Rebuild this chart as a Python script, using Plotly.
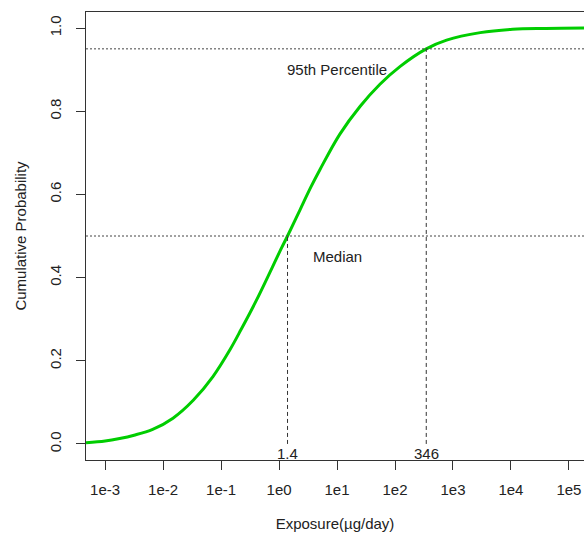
import plotly.graph_objects as go

# Curve values (exposure in µg/day, cumulative probability)
exposure = [4.68e-4, 1.0e-3, 1.78e-3, 3.16e-3, 6.61e-3, 0.0148, 0.0331, 0.0724,
            0.143, 0.221, 0.412, 1.11, 1.4, 2.30, 3.55, 5.09, 11.2, 25.1, 55.0,
            123, 346, 776, 2950, 10700, 39800, 200000]
cum_prob = [0.003, 0.007, 0.013, 0.021, 0.035, 0.062, 0.105, 0.162,
            0.227, 0.275, 0.347, 0.472, 0.50, 0.563, 0.618, 0.66, 0.745, 0.812, 0.865,
            0.908, 0.95, 0.971, 0.989, 0.997, 0.999, 1.0]

median_x = 1.4
median_p = 0.5
p95_x = 346
p95_p = 0.95

x_tickvals = [1e-3, 1e-2, 1e-1, 1e0, 1e1, 1e2, 1e3, 1e4, 1e5]
x_ticktext = ["1e-3", "1e-2", "1e-1", "1e0", "1e1", "1e2", "1e3", "1e4", "1e5"]
y_tickvals = [0.0, 0.2, 0.4, 0.6, 0.8, 1.0]
y_ticktext = ["0.0", "0.2", "0.4", "0.6", "0.8", "1.0"]

FONT = "Liberation Sans, Arial, sans-serif"

fig = go.Figure()
fig.add_trace(go.Scatter(x=exposure, y=cum_prob, mode="lines",
                         line=dict(color="#00CD00", width=3, shape="spline", smoothing=1.0),
                         hoverinfo="skip", showlegend=False))

# horizontal dotted reference lines
for p in [median_p, p95_p]:
    fig.add_shape(type="line", xref="paper", yref="y", x0=0, x1=1, y0=p, y1=p,
                  line=dict(color="#444444", width=1, dash="2px,2px"))
# vertical dashed lines
for xv, p in [(median_x, median_p), (p95_x, p95_p)]:
    fig.add_shape(type="line", xref="x", yref="y", x0=xv, x1=xv, y0=0, y1=p,
                  line=dict(color="#333333", width=1, dash="4px,3px"))

fig.add_annotation(x=1, y=0.9, xref="x", yref="y", text="95th Percentile",
                   showarrow=False, font=dict(size=15, color="#222222", family=FONT))
fig.add_annotation(x=1, y=0.45, xref="x", yref="y", text="Median",
                   showarrow=False, font=dict(size=15, color="#222222", family=FONT))
fig.add_annotation(x=0.146, y=-0.022, xref="x", yref="y", text=str(median_x),
                   showarrow=False, font=dict(size=15, color="#222222", family=FONT))
fig.add_annotation(x=2.539, y=-0.022, xref="x", yref="y", text=str(p95_x),
                   showarrow=False, font=dict(size=15, color="#222222", family=FONT))

fig.update_layout(
    width=584, height=534,
    margin=dict(l=86, r=0, t=12, b=74),
    paper_bgcolor="white", plot_bgcolor="white",
    font=dict(family=FONT, size=15, color="#222222"),
    xaxis=dict(type="log", range=[-3.33, 5.26], tickvals=x_tickvals, ticktext=x_ticktext,
               showgrid=False, zeroline=False, showline=True, linecolor="#333333",
               linewidth=1, mirror=True, ticks="outside", ticklen=9, tickcolor="#333333",
               ticklabelstandoff=7,
               title=dict(text="Exposure(µg/day)", standoff=21, font=dict(size=15))),
    yaxis=dict(range=[-0.0386, 1.0386], tickvals=y_tickvals, ticktext=y_ticktext,
               tickangle=-90, showgrid=False, zeroline=False, showline=True,
               linecolor="#333333", linewidth=1, mirror=False, ticks="outside",
               ticklen=9, tickcolor="#333333", ticklabelstandoff=9,
               title=dict(text="Cumulative Probability", standoff=16, font=dict(size=15))),
)

fig.write_html("out.html", config={"displayModeBar": False},
               post_script="document.body.style.margin='0';document.body.style.overflow='hidden';")
